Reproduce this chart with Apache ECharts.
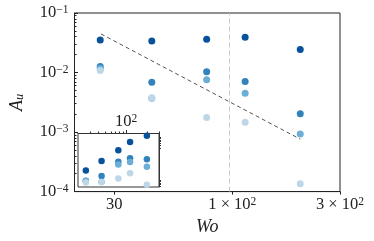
<!DOCTYPE html>
<html><head><meta charset="utf-8">
<script src="https://cdn.jsdelivr.net/npm/echarts@6/dist/echarts.min.js"></script>
<style>html,body{margin:0;padding:0;background:#fff}#c{width:374px;height:241px}</style>
</head><body><div id="c"></div>
<script>
// ---- data ----
const wo = [26, 44, 77, 114, 200];
const auS1 = [0.0353, 0.034, 0.0362, 0.039, 0.0243];
const auS2 = [0.0126, 0.0069, 0.0103, 0.0071, 0.00204];
const auS3 = [0.0117, 0.0037, 0.00755, 0.0045, 0.00093];
const auS4 = [0.0108, 0.00377, 0.00176, 0.00146, 0.000135];
const insetS1 = [4.14, 9.4, 23.8, 47.7, 82];
const insetS2 = [1.7, 2.58, 8.75, 12.0, 10.9];
const insetS3 = [1.68, 1.55, 6.87, 8.6, 5.74];
const insetS4 = [1.47, 1.54, 2.06, 3.28, 1.21];
const fitWo = [26.2, 200];
const fitAu = [0.0445, 0.00076];
const markerWo = 97;
const mainXTicks = [30, 100, 300];
const mainYTicks = [1e-4, 1e-3, 1e-2, 1e-1];
const mainYMinor = [2e-4,3e-4,4e-4,5e-4,6e-4,7e-4,8e-4,9e-4,2e-3,3e-3,4e-3,5e-3,6e-3,7e-3,8e-3,9e-3,2e-2,3e-2,4e-2,5e-2,6e-2,7e-2,8e-2,9e-2];
const insetXMinor = [30, 40, 50, 60, 70, 80, 90, 200, 300];
const insetXMajor = [100];
const insetYTicks = [29, 37, 44, 50, 57, 65, 74, 1.1, 1.25, 1.4, 1.6, 1.8];
const colors = ['#08519c', '#3182bd', '#6baed6', '#bdd7e7'];

const FONT = 'Liberation Serif';
const TXT = '#222';
const rich = {
  b: {fontFamily: FONT, fontSize: 16.5, lineHeight: 18, color: TXT},
  s: {fontFamily: FONT, fontSize: 11.5, lineHeight: 8, verticalAlign: 'top', color: TXT}
};
function pair(xs, ys) { return xs.map((x, i) => [x, ys[i]]); }
function yFmt(v) {
  const e = Math.round(Math.log10(v));
  return '{b|10}{s|' + (e < 0 ? '\u2212' + (-e) : e) + '}';
}
function xFmt(v) {
  if (Math.abs(v - 30) < 1e-6) return '{b|30}';
  const e = Math.floor(Math.log10(v) + 1e-9);
  const m = Math.round(v / Math.pow(10, e));
  return '{b|' + m + ' \u00d7 10}{s|' + e + '}';
}
const chart = echarts.init(document.getElementById('c'), null, {renderer: 'canvas'});
const scatter = (data, c, xi, yi, size) => ({
  type: 'scatter', xAxisIndex: xi, yAxisIndex: yi, data: data, symbolSize: size,
  itemStyle: {color: c, opacity: 1}, silent: true
});
chart.setOption({
  animation: false,
  grid: [
    {left: 66, right: 34, top: 13, bottom: 49, show: true, borderColor: '#222', borderWidth: 1, backgroundColor: 'transparent'},
    {left: 78, top: 133.5, width: 81, height: 53.5, show: true, borderColor: '#333', borderWidth: 1, backgroundColor: '#fff'}
  ],
  xAxis: [
    {type: 'log', gridIndex: 0, min: 20, max: 300, position: 'bottom',
     axisLine: {show: true, lineStyle: {color: '#222', width: 1}},
     axisTick: {show: true, inside: false, length: 3, customValues: mainXTicks, lineStyle: {color: '#222'}},
     axisLabel: {show: true, margin: 4, customValues: mainXTicks, formatter: xFmt, rich: rich},
     splitLine: {show: false}, minorTick: {show: false},
     name: '{i|Wo}', nameLocation: 'middle', nameGap: 25,
     nameTextStyle: {rich: {i: {fontFamily: FONT, fontStyle: 'italic', fontSize: 18, color: TXT}}}},
    {type: 'log', gridIndex: 1, min: 20, max: 300, position: 'top',
     axisLine: {show: true, lineStyle: {color: '#333', width: 1}},
     axisTick: {show: true, inside: false, length: 2, customValues: insetXMinor, lineStyle: {color: '#333'}},
     axisLabel: {show: true, margin: 3, customValues: insetXMajor, formatter: yFmt, rich: rich},
     splitLine: {show: false}},
    {type: 'log', gridIndex: 1, min: 20, max: 300, position: 'top',
     axisLine: {show: false},
     axisTick: {show: true, inside: false, length: 3.5, customValues: insetXMajor, lineStyle: {color: '#333'}},
     axisLabel: {show: false}, splitLine: {show: false}}
  ],
  yAxis: [
    {type: 'log', gridIndex: 0, min: 1e-4, max: 0.1, position: 'left',
     axisLine: {show: true, lineStyle: {color: '#222', width: 1}},
     axisTick: {show: true, inside: true, length: 3.5, customValues: mainYTicks, lineStyle: {color: '#222'}},
     axisLabel: {show: true, margin: 6, customValues: mainYTicks, formatter: yFmt, rich: rich},
     splitLine: {show: false},
     name: '{i|A}{sub|u}', nameLocation: 'middle', nameGap: 48, nameRotate: 90,
     nameTextStyle: {rich: {
       i: {fontFamily: FONT, fontStyle: 'italic', fontSize: 18, lineHeight: 19, color: TXT},
       sub: {fontFamily: FONT, fontStyle: 'italic', fontSize: 12.5, lineHeight: 8, verticalAlign: 'bottom', color: TXT}}}},
    {type: 'log', gridIndex: 0, min: 1e-4, max: 0.1, position: 'left',
     axisLine: {show: false},
     axisTick: {show: true, inside: true, length: 2, customValues: mainYMinor, lineStyle: {color: '#222'}},
     axisLabel: {show: false}, splitLine: {show: false}},
    {type: 'log', gridIndex: 1, min: 1, max: 100, position: 'right',
     axisLine: {show: true, lineStyle: {color: '#333', width: 1}},
     axisTick: {show: true, inside: false, length: 2, customValues: insetYTicks, lineStyle: {color: '#333'}},
     axisLabel: {show: false}, splitLine: {show: false}}
  ],
  series: [
    {type: 'line', xAxisIndex: 0, yAxisIndex: 0, data: [], silent: true,
     markLine: {silent: true, symbol: 'none', label: {show: false},
       lineStyle: {color: '#c8c8c8', type: [5, 3], width: 1}, data: [{xAxis: markerWo}]}},
    {type: 'line', xAxisIndex: 0, yAxisIndex: 0, data: pair(fitWo, fitAu), showSymbol: false, symbol: 'none',
     lineStyle: {color: '#555', width: 1, type: [4, 3]}, silent: true, z: 1},
    scatter(pair(wo, auS1), colors[0], 0, 0, 7),
    scatter(pair(wo, auS2), colors[1], 0, 0, 7),
    scatter(pair(wo, auS3), colors[2], 0, 0, 7),
    scatter(pair(wo, auS4), colors[3], 0, 0, 7),
    scatter(pair(wo, insetS1), colors[0], 1, 2, 6.5),
    scatter(pair(wo, insetS2), colors[1], 1, 2, 6.5),
    scatter(pair(wo, insetS3), colors[2], 1, 2, 6.5),
    scatter(pair(wo, insetS4), colors[3], 1, 2, 6.5)
  ]
});
</script></body></html>
